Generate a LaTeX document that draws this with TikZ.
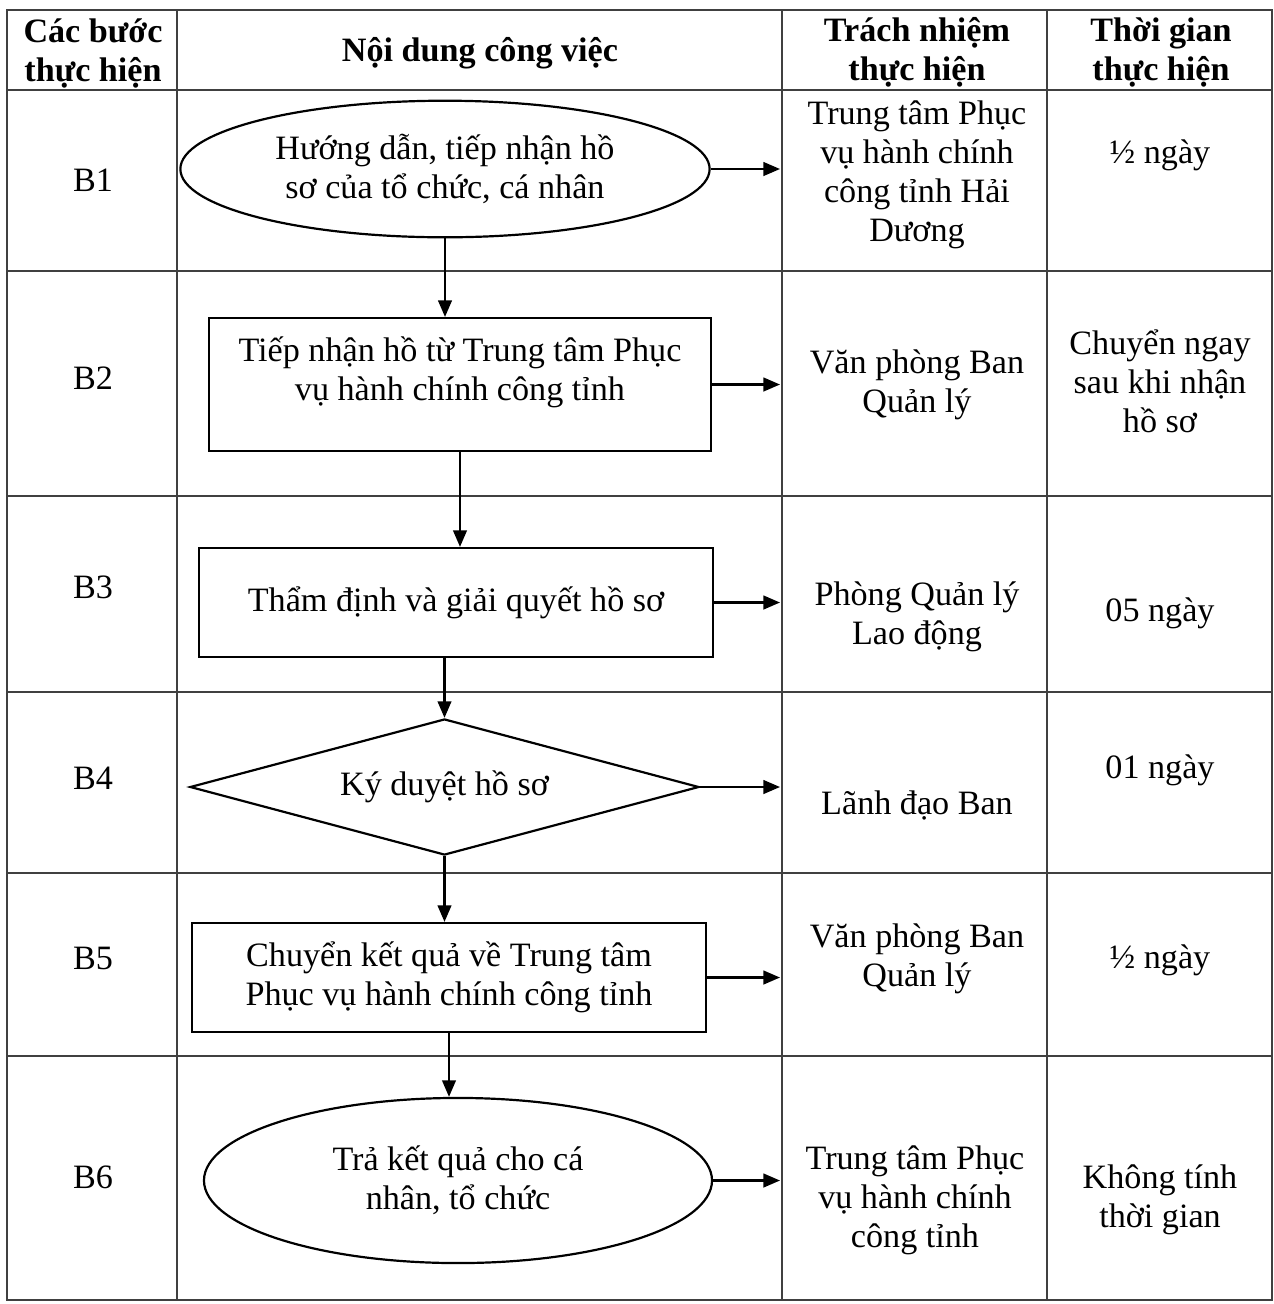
\documentclass[tikz,border=0pt]{standalone}
\usepackage{fontspec}
\setmainfont{Liberation Serif}
\usetikzlibrary{shapes.geometric}
\usetikzlibrary{arrows.meta}

\begin{document}
\begin{tikzpicture}[x=0.41pt,y=-0.41pt,
  every node/.style={font=\fontsize{14}{16}\selectfont,align=center},
  hd/.style={font=\fontsize{14}{16}\selectfont\bfseries},
  tbl/.style={draw=black!75,line width=0.55pt},
  box/.style={draw,line width=0.9pt,inner sep=0pt},
  oval/.style={box,ellipse},
  dia/.style={box,diamond,aspect=3.7},
  arr/.style={line width=0.9pt,-{Triangle[length=6.8pt,width=5.6pt]}}]
  \useasboundingbox (0,0) rectangle (1274,1304);
  \draw[tbl] (7,10) rectangle (1272,1300);
  \foreach \y in {90,271,496,692,873,1056} \draw[tbl] (7,\y) -- (1272,\y);
  \foreach \x in {177,782,1047} \draw[tbl] (\x,10) -- (\x,1300);
  \node[hd] (h1) at (93,53) {Các bước\\thực hiện};
  \node[hd] (h2) at (480,53) {Nội dung công việc};
  \node[hd] (h3) at (917,52) {Trách nhiệm\\thực hiện};
  \node[hd] (h4) at (1161,52) {Thời gian\\thực hiện};
  \foreach \n/\y in {1/180,2/378,3/587,4/778,5/958,6/1177}
    \node (s\n) at (93,\y) {B\n};
  \node[oval,minimum width=217pt,minimum height=56pt] (b1) at (445,169) {Hướng dẫn, tiếp nhận hồ\\sơ của tổ chức, cá nhân};
  \node[box,minimum width=205.6pt,minimum height=54.5pt] (b2) at (460,384.5) {};
  \node (t2) at (460,372) {Tiếp nhận hồ từ Trung tâm Phục\\vụ hành chính công tỉnh};
  \node[box,minimum width=210.7pt,minimum height=44.7pt] (b3) at (456,602.5) {Thẩm định và giải quyết hồ sơ};
  \node[dia,minimum width=208.7pt,minimum height=55.8pt] (b4) at (444.5,787) {Ký duyệt hồ sơ};
  \node[box,minimum width=210.5pt,minimum height=44.7pt] (b5) at (449,977.5) {Chuyển kết quả về Trung tâm\\Phục vụ hành chính công tỉnh};
  \node[oval,minimum width=208.3pt,minimum height=67.7pt] (b6) at (458,1180.5) {Trả kết quả cho cá\\nhân, tổ chức};
  \draw[arr] (b1.south) -- (b1.south |- b2.north);
  \draw[arr] (b2.south) -- (b2.south |- b3.north);
  \draw[arr] (b4.north |- b3.south) -- (b4.north);
  \draw[arr] (b4.south) -- (b4.south |- b5.north);
  \draw[arr] (b5.south) -- (b5.south |- b6.north);
  \coordinate (c3) at (780,0);
  \foreach \i in {1,...,6} \draw[arr] (b\i.east) -- (b\i.east -| c3);
  \node (r1) at (917,175) {Trung tâm Phục\\vụ hành chính\\công tỉnh Hải\\Dương};
  \node (r2) at (917,385) {Văn phòng Ban\\Quản lý};
  \node (r3) at (917,617) {Phòng Quản lý\\Lao động};
  \node (r4) at (917,805) {Lãnh đạo Ban};
  \node (r5) at (917,959) {Văn phòng Ban\\Quản lý};
  \node (r6) at (915,1200) {Trung tâm Phục\\vụ hành chính\\công tỉnh};
  \node (d1) at (1160,155) {½ ngày};
  \node (d2) at (1160,381) {Chuyển ngay\\sau khi nhận\\hồ sơ};
  \node (d3) at (1160,613) {05 ngày};
  \node (d4) at (1160,770) {01 ngày};
  \node (d5) at (1160,960) {½ ngày};
  \node (d6) at (1160,1200) {Không tính\\thời gian};
\end{tikzpicture}
\end{document}
